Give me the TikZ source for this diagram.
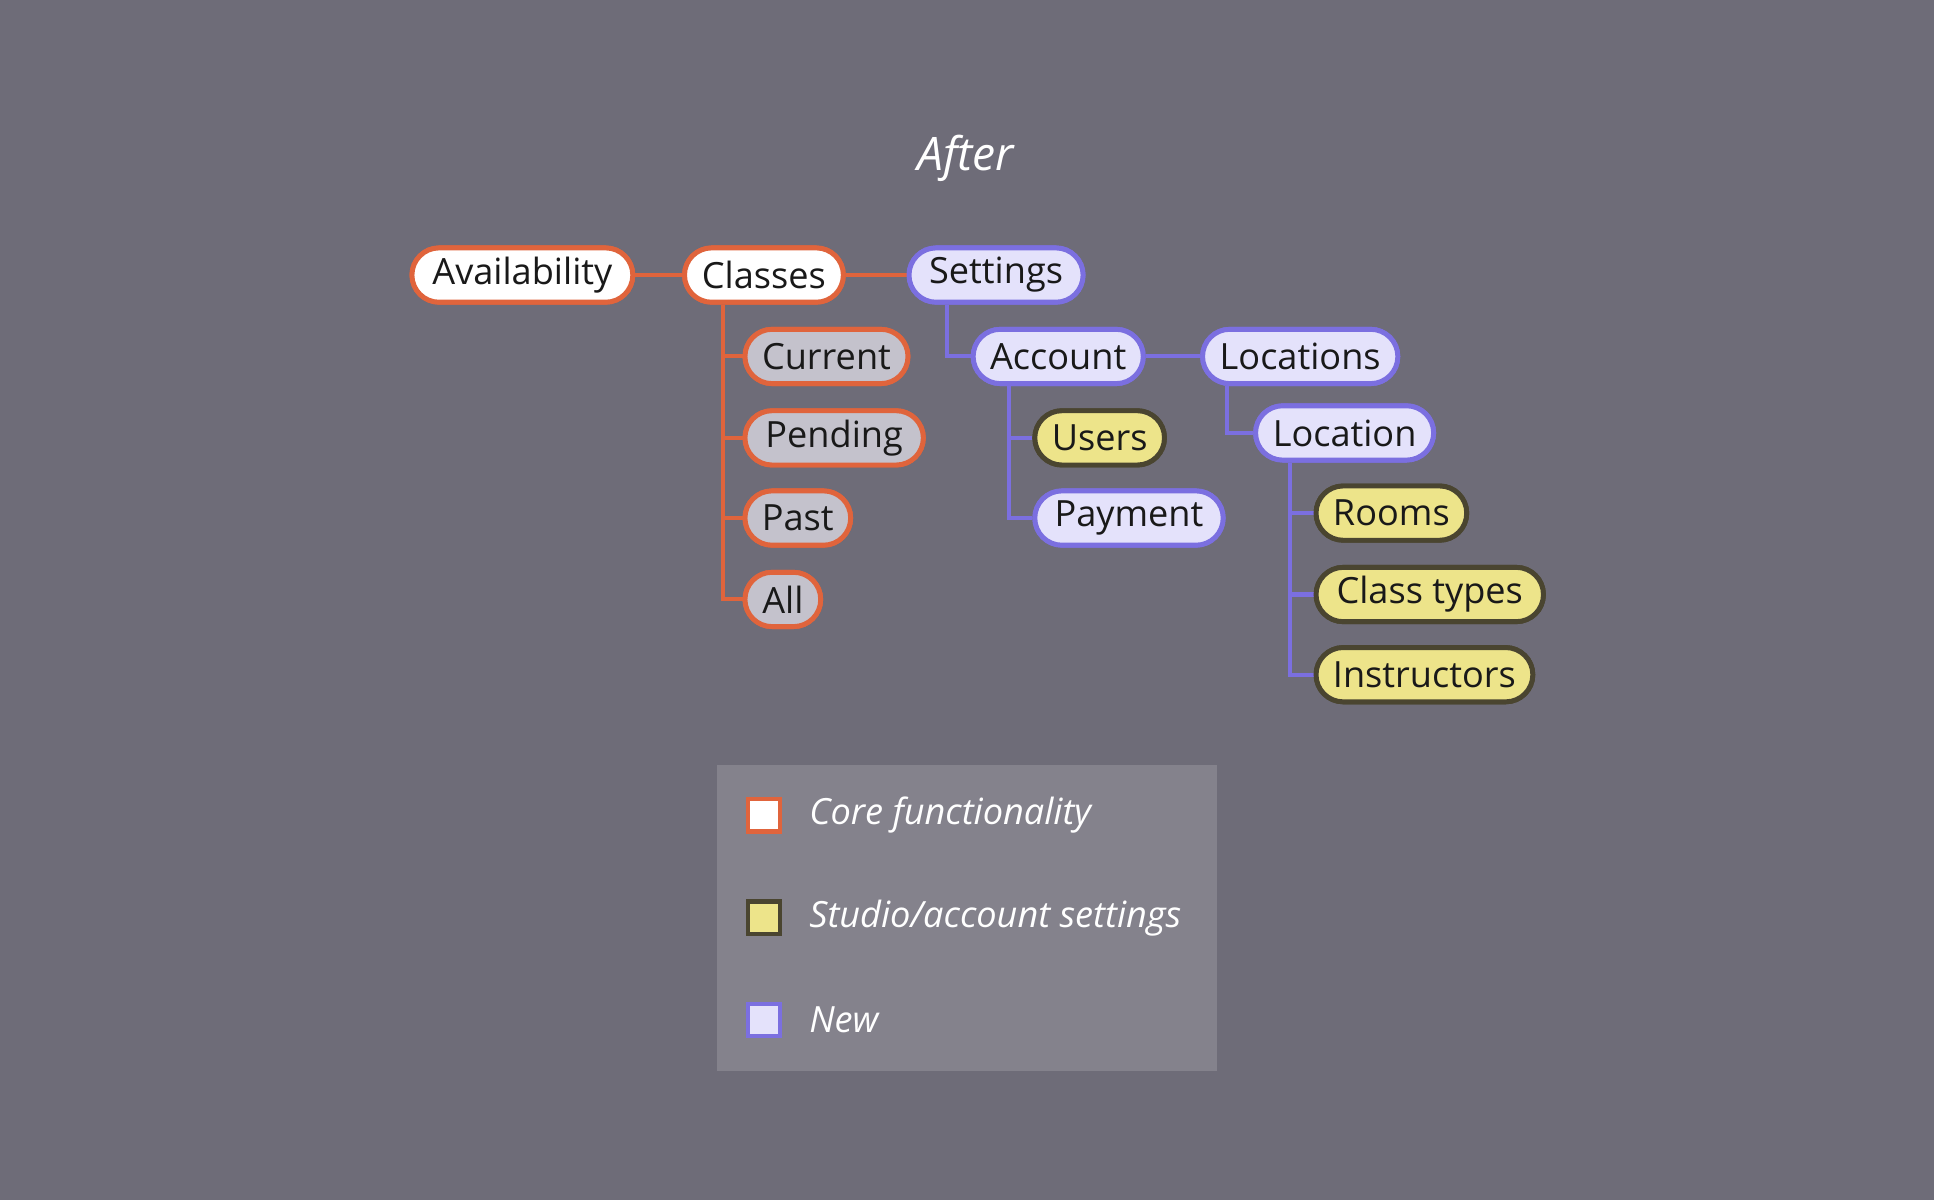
\documentclass[tikz,border=0pt]{standalone}
\usepackage{fontspec}
\setmainfont{Open Sans}
\usetikzlibrary{shapes.misc}
\definecolor{bg}{HTML}{6E6C78}
\definecolor{org}{HTML}{E0643C}
\definecolor{gry}{HTML}{C4C2CC}
\definecolor{pur}{HTML}{7B6FE0}
\definecolor{purf}{HTML}{E4E2FB}
\definecolor{yel}{HTML}{EDE48A}
\definecolor{yeld}{HTML}{4A4530}
\definecolor{leg}{HTML}{84828C}
\tikzset{
 pill/.style={rounded rectangle, anchor=west, minimum height=44*0.03cm, inner xsep=11*0.03cm, line width=3.4pt, font=\fontsize{25}{28}\selectfont, text=black!90},
 core/.style={pill, draw=org, fill=white},
 sub/.style={pill, draw=org, fill=gry},
 newn/.style={pill, draw=pur, fill=purf},
 stud/.style={pill, draw=yeld, fill=yel},
 oc/.style={draw=org, line width=2.8pt},
 pc/.style={draw=pur, line width=2.8pt},
 sq/.style={minimum size=26*0.03cm, line width=3pt, inner sep=0pt},
 lt/.style={text=white, font=\fontsize{25}{28}\selectfont\itshape, anchor=west}
}
\begin{document}
\begin{tikzpicture}[x=0.03cm,y=-0.03cm]
\fill[bg] (0,0) rectangle (1568,973);
\node[text=white, font=\fontsize{32}{36}\selectfont\itshape] (title) at (783,128) {After};
\node[core] (av) at (332,223) {Availability};
\node[core] (cl) at (553,223) {Classes};
\node[newn] (se) at (735,223) {Settings};
\node[sub] (cu) at (602,289) {Current};
\node[sub] (pe) at (602,355) {Pending};
\node[sub] (pa) at (602,420) {Past};
\node[sub] (al) at (602,486) {All};
\node[newn] (ac) at (787,289) {Account};
\node[stud] (us) at (837,355) {Users};
\node[newn] (pm) at (837,420) {Payment};
\node[newn] (lo) at (973,289) {Locations};
\node[newn] (lc) at (1016,351) {Location};
\node[stud] (ro) at (1065,416) {Rooms};
\node[stud] (ct) at (1065,482) {Class types};
\node[stud] (in) at (1065,547) {Instructors};
\begin{scope}[on background layer/.try]
\end{scope}
\draw[oc] (av.east) -- (cl.west);
\draw[oc] (cl.east) -- (se.west);
\coordinate (cx) at (586,223);
\draw[oc] (cl.south -| cx) |- (al.west);
\foreach \n in {cu,pe,pa} \draw[oc] (cl.south -| cx) |- (\n.west);
\draw[pc] (se.south -| 768,0) |- (ac.west);
\draw[pc] (ac.east) -- (lo.west);
\draw[pc] (ac.south -| 818,0) |- (pm.west);
\draw[pc] (ac.south -| 818,0) |- (us.west);
\draw[pc] (lo.south -| 995,0) |- (lc.west);
\draw[pc] (lc.south -| 1046,0) |- (in.west);
\draw[pc] (lc.south -| 1046,0) |- (ct.west);
\draw[pc] (lc.south -| 1046,0) |- (ro.west);
% redraw nodes on top
\node[core] at (av.west) {Availability};
\node[core] at (cl.west) {Classes};
\node[newn] at (se.west) {Settings};
\node[sub] at (cu.west) {Current};
\node[sub] at (pe.west) {Pending};
\node[sub] at (pa.west) {Past};
\node[sub] at (al.west) {All};
\node[newn] at (ac.west) {Account};
\node[stud] at (us.west) {Users};
\node[newn] at (pm.west) {Payment};
\node[newn] at (lo.west) {Locations};
\node[newn] at (lc.west) {Location};
\node[stud] at (ro.west) {Rooms};
\node[stud] at (ct.west) {Class types};
\node[stud] at (in.west) {Instructors};
\fill[leg] (581,620) rectangle (987,868);
\node[sq, draw=org, fill=white] (s1) at (619.5,661) {};
\node[sq, draw=yeld, fill=yel] (s2) at (619.5,744) {};
\node[sq, draw=pur, fill=purf] (s3) at (619.5,827) {};
\node[lt] (l1) at (652,661) {Core functionality};
\node[lt] (l2) at (652,744) {Studio/account settings};
\node[lt] (l3) at (652,827) {New};
\end{tikzpicture}
\end{document}
